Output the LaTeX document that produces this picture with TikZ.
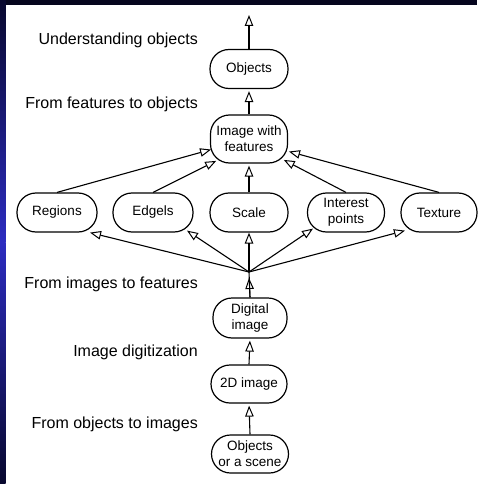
\documentclass[tikz,border=0pt]{standalone}
\usepackage{fontspec}
\setmainfont{Liberation Sans}
\usetikzlibrary{arrows.meta,calc}
\definecolor{navy}{HTML}{06061E}
\definecolor{sideblue}{HTML}{2C2CC0}
\definecolor{sidedark}{HTML}{08082E}
\begin{document}
\begin{tikzpicture}[x=1pt,y=-1pt,
  box/.style={draw,line width=1.2pt,rounded corners=19pt,minimum height=39pt,
    minimum width=78pt,inner sep=1pt,align=center,
    font=\fontsize{13.5}{16}\selectfont},
  lab/.style={anchor=base east,font=\fontsize{16}{19}\selectfont,inner sep=0pt},
  arr/.style={line width=1.1pt,-{Triangle[open,length=11pt,width=8.5pt,line width=1pt]},shorten >=2pt},
  ln/.style={line width=1.1pt}]
\useasboundingbox (0,0) rectangle (477,484);
\fill[white] (0,0) rectangle (477,484);
\fill[navy] (0,0) rectangle (477,5);
\shade[top color=sidedark,bottom color=sideblue] (0,0) rectangle (5.5,242);
\shade[top color=sideblue,bottom color=sidedark] (0,242) rectangle (5.5,484);

% nodes
\node[box] (obj) at (249,69) {Objects};
\node[box,minimum height=48pt,minimum width=77pt] (iwf) at (249,139) {Image with\\features};
\node[box,minimum width=80pt] (reg) at (57,212.5) {Regions};
\node[box,minimum width=80pt] (edg) at (153,212.5) {Edgels};
\node[box,minimum width=78pt] (sca) at (249,212.5) {Scale};
\node[box,minimum width=77pt] (int) at (346,212.5) {Interest\\points};
\node[box,minimum width=76pt] (tex) at (439,212.5) {Texture};
\node[box,minimum width=74pt,minimum height=40pt] (dig) at (250,318) {Digital\\image};
\node[box,minimum width=76pt,minimum height=38pt] (two) at (249,384) {2D image};
\node[box,minimum width=77pt,minimum height=38pt] (ois) at (250,454) {Objects\\or a scene};

\coordinate (top) at (249,15);
\coordinate (conv) at (249,272);

% labels
\node[lab] (l1) at (198,45) {Understanding objects};
\node[lab] (l2) at (198,109) {From features to objects};
\node[lab] (l3) at (198,288) {From images to features};
\node[lab] (l4) at (198,356.5) {Image digitization};
\node[lab] (l5) at (198,428) {From objects to images};

% connectors
\draw[arr,shorten >=0pt] (obj.north) -- (top);
\draw[arr] (iwf.north) -- (obj.south);
\draw[arr] (reg.north) -- ($(iwf.center)+(-36,10)$);
\draw[arr] (edg.north) -- ($(iwf.center)+(-31,21)$);
\draw[arr] (sca.north) -- (iwf.south);
\draw[arr] (int.north) -- ($(iwf.center)+(33,20)$);
\draw[arr] (tex.north) -- ($(iwf.center)+(38,12)$);

\draw[arr,shorten >=0pt] (conv) -- ($(reg.south)+(33,0)$);
\draw[arr,shorten >=0pt] (conv) -- ($(edg.south)+(34,-2)$);
\draw[arr,shorten >=0pt] (conv) -- (sca.south);
\draw[arr,shorten >=0pt] (conv) -- ($(int.south)+(-33,-4)$);
\draw[arr,shorten >=0pt] (conv) -- ($(tex.south)+(-34,-2)$);

\draw[ln] (dig.north) -- (conv);
\draw[arr,shorten >=0pt] (dig.north) -- ($(conv)+(0,6)$);
\draw[arr] (two.north) -- (dig.south);
\draw[arr] (ois.north) -- (two.south);
\end{tikzpicture}
\end{document}
